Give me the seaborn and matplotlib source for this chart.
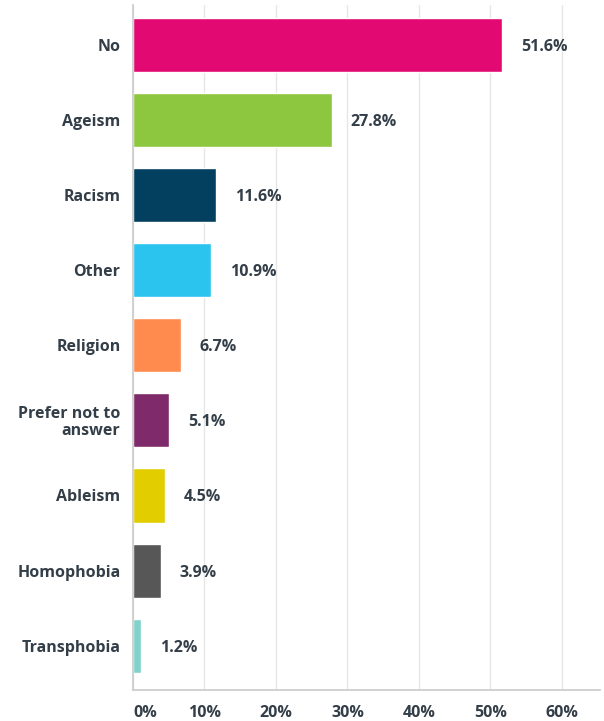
import matplotlib
matplotlib.use("Agg")
import matplotlib.pyplot as plt
import seaborn as sns
import pandas as pd

categories = ["No", "Ageism", "Racism", "Other", "Religion",
              "Prefer not to\nanswer", "Ableism", "Homophobia", "Transphobia"]
values = [51.6, 27.8, 11.6, 10.9, 6.7, 5.1, 4.5, 3.9, 1.2]
colors = ["#E20A72", "#8DC63F", "#03405F", "#2AC4EE", "#FF8B4F",
          "#7F2B6B", "#E2CE00", "#575757", "#7FD3CC"]
xticks = [0, 10, 20, 30, 40, 50, 60]
xticklabels = ["0%", "10%", "20%", "30%", "40%", "50%", "60%"]

sns.set_theme(style="white")
plt.rcParams['font.family'] = ['Open Sans', 'DejaVu Sans']
txt = "#333E48"
fs = 11.5

df = pd.DataFrame({"cat": categories, "val": values})
fig = plt.figure(figsize=(6.04, 7.21), dpi=100)
ax = fig.add_axes([0.220, 0.043, 0.773, 0.950])
sns.barplot(data=df, y="cat", x="val", hue="cat", palette=colors,
            legend=False, width=0.72, ax=ax, saturation=1, orient="h")

ax.set_xlim(0, 65.3)
ax.set_ylim(8.59, -0.53)
ax.set_xticks(xticks)
ax.set_xticklabels(xticklabels, fontsize=fs, fontweight="bold", color=txt)
ax.get_xticklabels()[0].set_horizontalalignment("left")
ax.tick_params(axis="x", length=0, pad=10.5)
ax.tick_params(axis="y", length=0, pad=9)
for lab in ax.get_yticklabels():
    lab.set_fontsize(fs)
    lab.set_fontweight("bold")
    lab.set_color(txt)
    lab.set_linespacing(1.05)
ax.set_xlabel("")
ax.set_ylabel("")
ax.grid(axis="x", color="#E6E6E6", linewidth=1)
ax.set_axisbelow(True)
for s in ["top", "right"]:
    ax.spines[s].set_visible(False)
ax.spines["left"].set_color("#CCCCCC")
ax.spines["bottom"].set_color("#CCCCCC")

for i, v in enumerate(values):
    ax.annotate(f"{v}%", xy=(v, i), xytext=(19, -2), textcoords="offset pixels",
                va="center", ha="left", fontsize=fs, fontweight="bold", color=txt)

fig.savefig("out.png", dpi=100)
